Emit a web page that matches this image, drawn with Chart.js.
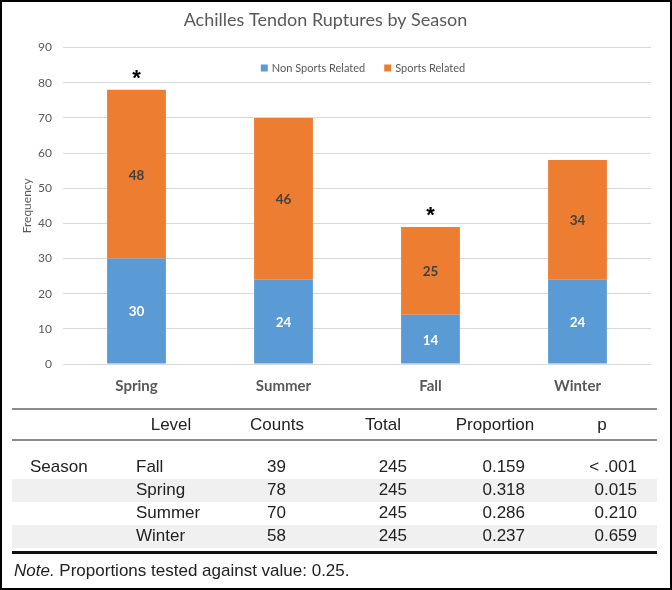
<!DOCTYPE html>
<html>
<head>
<meta charset="utf-8">
<script src="https://cdn.jsdelivr.net/npm/chart.js@4.4.1/dist/chart.umd.min.js"></script>
<style>
    html, body { margin: 0; padding: 0; background: #fff; }
    #page { position: relative; width: 672px; height: 590px; overflow: hidden; }
    #frame { position: absolute; left: 0; top: 0; width: 672px; height: 590px; box-sizing: border-box; border: 2px solid #000; pointer-events: none; }
    #chartBox { position: absolute; left: 0; top: 0; width: 672px; height: 400px; }
    #table { position: absolute; left: 0; top: 0; width: 672px; height: 590px; font-family: "Liberation Sans", Arial, sans-serif; font-size: 17px; color: #222; }
    .cell { position: absolute; white-space: nowrap; line-height: 20px; }
    .rule { position: absolute; left: 12px; width: 645px; }
    .band { position: absolute; left: 12px; width: 645px; background: #f0f0f0; }
</style>
</head>
<body>
<div id="page">
    <div id="chartBox"><canvas id="seasonChart"></canvas></div>
    <div id="table"></div>
    <div id="frame"></div>
</div>
<script>
// Chart data
const seasons = ["Spring", "Summer", "Fall", "Winter"];
const nonSportsRelated = [30, 24, 14, 24];
const sportsRelated = [48, 46, 25, 34];
const significant = [true, false, true, false];

// Table data
const tableHeaders = ["Level", "Counts", "Total", "Proportion", "p"];
const levels = ["Fall", "Spring", "Summer", "Winter"];
const counts = ["39", "78", "70", "58"];
const totals = ["245", "245", "245", "245"];
const proportions = ["0.159", "0.318", "0.286", "0.237"];
const pValues = ["< .001", "0.015", "0.210", "0.659"];

const BLUE = "#5b9bd5";
const ORANGE = "#ed7d31";
const GRAY_TEXT = "#595959";

// value labels, asterisks and the in-plot legend
const overlayPlugin = {
    id: "overlay",
    afterDatasetsDraw(chart) {
        const ctx = chart.ctx;
        ctx.save();
        ctx.textAlign = "center";
        ctx.textBaseline = "middle";
        ctx.font = "bold 13.5px Lato";
        chart.data.datasets.forEach((ds, di) => {
            const meta = chart.getDatasetMeta(di);
            meta.data.forEach((bar, i) => {
                const p = bar.getProps(["x", "y", "base"], true);
                ctx.fillStyle = di === 0 ? "#ffffff" : "#404040";
                ctx.fillText(String(ds.data[i]), p.x, (p.y + p.base) / 2 + 1);
            });
        });

        // asterisks above significant bars
        const topMeta = chart.getDatasetMeta(1);
        ctx.fillStyle = "#000";
        ctx.font = "bold 22px 'Liberation Sans'";
        ctx.textBaseline = "alphabetic";
        topMeta.data.forEach((bar, i) => {
            if (!significant[i]) return;
            ctx.fillText("*", bar.x, bar.y - 5);
        });

        // legend
        const area = chart.chartArea;
        ctx.font = "11px Lato";
        ctx.textAlign = "left";
        ctx.textBaseline = "middle";
        const items = chart.data.datasets.map((ds) => ({
            label: ds.label,
            color: ds.backgroundColor,
            w: ctx.measureText(ds.label).width,
        }));
        const box = 7, gap = 4, spacing = 19;
        const total = items.reduce((s, it) => s + box + gap + it.w, 0) + spacing * (items.length - 1);
        let x = (area.left + area.right) / 2 + 6 - total / 2;
        const y = 68;
        items.forEach((it) => {
            ctx.fillStyle = it.color;
            ctx.fillRect(x, y - box / 2, box, box);
            ctx.fillStyle = GRAY_TEXT;
            ctx.fillText(it.label, x + box + gap, y);
            x += box + gap + it.w + spacing;
        });
        ctx.restore();
    },
};

const ctx = document.getElementById("seasonChart");
new Chart(ctx, {
    type: "bar",
    data: {
        labels: seasons,
        datasets: [
            {
                label: "Non Sports Related",
                data: nonSportsRelated,
                backgroundColor: BLUE,
                categoryPercentage: 1,
                barPercentage: 0.4,
            },
            {
                label: "Sports Related",
                data: sportsRelated,
                backgroundColor: ORANGE,
                categoryPercentage: 1,
                barPercentage: 0.4,
            },
        ],
    },
    options: {
        responsive: true,
        maintainAspectRatio: false,
        animation: false,
        layout: { padding: { left: 0, right: 21, top: 0, bottom: 0 } },
        plugins: {
            legend: { display: false },
            tooltip: { enabled: false },
            title: {
                display: true,
                text: "Achilles Tendon Ruptures by Season",
                color: GRAY_TEXT,
                font: { family: "Lato", size: 18, weight: "normal" },
                padding: { top: 9, bottom: 17 },
            },
        },
        scales: {
            x: {
                stacked: true,
                grid: { display: false },
                border: { display: false },
                ticks: {
                    color: GRAY_TEXT,
                    font: { family: "Lato", size: 15, weight: "bold" },
                    padding: 5,
                },
                afterFit: (scale) => { scale.height = 36; },
            },
            y: {
                stacked: true,
                min: 0,
                max: 90,
                grid: { color: "#d9d9d9", drawTicks: false },
                border: { display: false },
                ticks: {
                    stepSize: 10,
                    color: GRAY_TEXT,
                    font: { family: "Lato", size: 12 },
                    padding: 11,
                },
                title: {
                    display: true,
                    text: "Frequency",
                    color: GRAY_TEXT,
                    font: { family: "Lato", size: 12 },
                    padding: { top: 20, bottom: 0 },
                },
                afterFit: (scale) => { scale.width = 63; },
            },
        },
    },
    plugins: [overlayPlugin],
});

// Table below the chart
const table = document.getElementById("table");
function addDiv(cls, style, html) {
    const d = document.createElement("div");
    d.className = cls;
    Object.assign(d.style, style);
    if (html !== undefined) d.innerHTML = html;
    table.appendChild(d);
    return d;
}

// column anchors: header centre, value anchor and alignment
const columns = [
    { head: 171, anchor: 136, align: "left", values: levels },
    { head: 277, anchor: 286, align: "right", values: counts },
    { head: 383, anchor: 407, align: "right", values: totals },
    { head: 495, anchor: 525, align: "right", values: proportions },
    { head: 602, anchor: 637, align: "right", values: pValues },
];
const rowY = [467, 490, 513, 536];

// shaded rows
[1, 3].forEach((r) => addDiv("band", { top: (rowY[r] - 11.5) + "px", height: "23px" }));

// rules
addDiv("rule", { top: "408px", height: "2px", background: "#8c8c8c" });
addDiv("rule", { top: "439px", height: "2px", background: "#8c8c8c" });
addDiv("rule", { top: "551px", height: "3px", background: "#111" });

function place(text, x, y, align) {
    const d = addDiv("cell", { top: (y - 10) + "px" }, text);
    if (align === "center") {
        d.style.left = x + "px";
        d.style.transform = "translateX(-50%)";
    } else if (align === "right") {
        d.style.right = (672 - x) + "px";
    } else {
        d.style.left = x + "px";
    }
}

columns.forEach((col, ci) => {
    place(tableHeaders[ci], col.head, 425, "center");
    col.values.forEach((v, r) => place(v, col.anchor, rowY[r], col.align));
});
place("Season", 30, rowY[0], "left");
place("<i>Note.</i> Proportions tested against value: 0.25.", 14, 571, "left");
</script>
</body>
</html>
